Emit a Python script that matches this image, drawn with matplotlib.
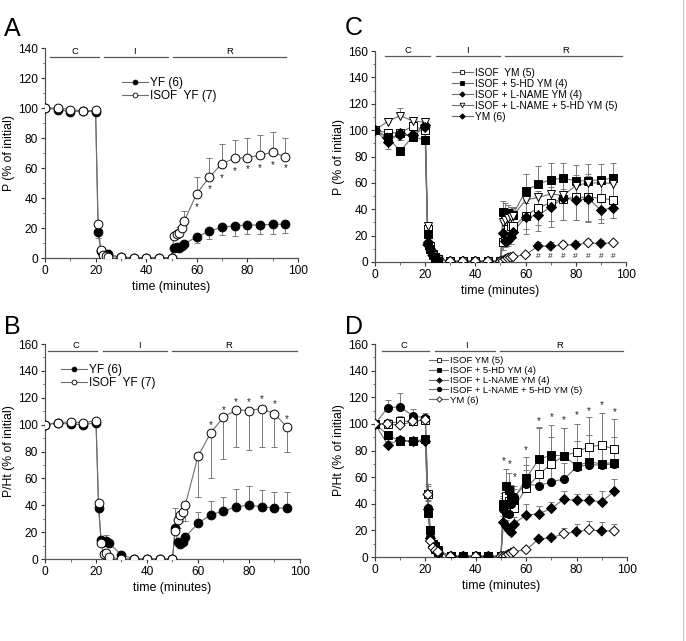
import matplotlib
matplotlib.use("Agg")
import matplotlib.pyplot as plt
from matplotlib.lines import Line2D
import numpy as np

plt.rcParams['font.family'] = ['Liberation Sans', 'DejaVu Sans']

# ---------------- data ----------------
T = [0, 5, 10, 15, 20, 21, 22, 23, 24, 25, 30, 35, 40, 45, 50,
     51, 52, 53, 54, 55, 60, 65, 70, 75, 80, 85, 90, 95]

# Panel A : P (% of initial)
A_yf = [100, 99, 97.5, 98, 97.5, 17.5, 5, 3, 3, 2.5, 0.5, 0, 0, 0, 0,
        7, 7.5, 7, 8, 9.5, 14, 18, 20.5, 21.5, 22, 22, 22.5, 22.5]
A_yf_err = [0, 0, 0, 0, 0, 4, 0, 0, 0, 0, 0, 0, 0, 0, 0,
            0, 0, 0, 0, 0, 4, 5, 5, 6.5, 6, 6, 6.5, 6]
A_isof = [100, 100, 99, 98, 98.5, 23, 5.5, 2, 1.5, 1, 0.5, 0.3, 0.3, 0.3, 0.3,
          15, 16, 17, 20, 24.5, 43, 54, 63, 66.5, 67, 68.5, 70.5, 67.5]
A_isof_err = [0, 0, 0, 0, 0, 0, 0, 0, 0, 0, 0, 0, 0, 0, 0,
              0, 0, 4, 5, 7, 11, 13, 13, 12.5, 13, 13.5, 13.5, 12.5]
A_star_t = [60, 65, 70, 75, 80, 85, 90, 95]
A_star_y = [34, 46, 53, 58, 59, 60, 62, 60]

# Panel B : P/Ht (% of initial)
B_yf = [100, 101, 100.5, 100, 101.5, 38, 14, 13, 13.5, 12, 3, 0, 0, 0, 0,
        23, 13, 11, 13, 16.5, 26.5, 33, 35.5, 39, 40, 39, 38, 38]
B_yf_err = [0, 0, 0, 0, 0, 6, 0, 0, 4.5, 0, 0, 0, 0, 0, 0,
            15, 0, 0, 0, 0, 8.5, 10, 10.5, 13, 14, 12, 12, 12]
B_isof = [100, 101.5, 102, 101.5, 103, 42, 12, 4, 4.5, 1.5, 0, 0, 0, 0, 0,
          21, 29, 32.5, 35, 40, 76.5, 94, 105.5, 111, 110.5, 112, 108, 98]
B_isof_err = [0, 0, 0, 0, 0, 0, 0, 0, 0, 0, 0, 0, 0, 0, 0,
              0, 6, 5, 0, 12, 30.5, 34, 31, 28, 29.5, 29, 25, 18]
B_star_t = [65, 70, 75, 80, 85, 90, 95]
B_star_y = [100, 111, 117, 117, 119, 115, 104]

# Panel C : P (% of initial), YM hearts
C_isof = [100, 98, 98, 103, 100, 25, 12, 6, 4, 2, 0.5, 0.5, 0.5, 0.5, 0.5,
          15, 18, 25, 27, 27, 35, 41, 45, 48, 49, 49, 48.5, 47]
C_isof_err = [0, 3, 3, 3, 3, 3, 0, 0, 0, 0, 0, 0, 0, 0, 0,
              6, 6, 8, 8, 6, 10, 13, 14, 16, 17, 18, 16, 14]
C_5hd = [100, 95, 84, 95, 92.5, 21, 10, 5, 3, 2, 0.5, 0.5, 0.5, 0.5, 0.5,
         38, 37, 37, 36, 36, 54, 59, 62.5, 63.5, 61.5, 61.5, 62.5, 63.5]
C_5hd_err = [0, 3, 3, 3, 3, 3, 0, 0, 0, 0, 0, 0, 0, 0, 0,
             8, 8, 6, 6, 6, 13, 14, 12.5, 11.5, 12, 12.5, 12, 11.5]
C_lname = [100, 91, 97.5, 96, 104, 15, 10, 6, 4, 3, 0.5, 0.5, 0.5, 0.5, 0.5,
           22, 16, 17, 19, 23, 34, 35.5, 41.5, 48.5, 47, 48, 39.5, 41]
C_lname_err = [0, 5, 5, 3, 3, 3, 0, 0, 0, 0, 0, 0, 0, 0, 0,
               5, 5, 5, 5, 5, 13, 12, 15, 17, 15, 18, 10, 8]
C_both = [100, 106.5, 111, 107, 106, 27, 8, 5, 3, 2, 0.5, 0.5, 0.5, 0.5, 0.5,
          30, 32, 33, 34, 35, 47, 49, 51.5, 50.5, 58, 60, 60, 59.5]
C_both_err = [0, 3, 6, 3, 3, 3, 0, 0, 0, 0, 0, 0, 0, 0, 0,
              6, 6, 6, 6, 6, 5, 5, 5, 5, 5, 5, 5, 5]
C_ym = [100, 94, 96, 96, 102, 13, 10, 5, 3, 2, 0.5, 0.5, 0.5, 0.5, 0.5,
        1, 2, 3, 3.5, 4, 5.5, 12, 12, 13, 13, 14.5, 14, 14.5]
C_ym_err = [0, 3, 3, 3, 3, 2, 0, 0, 0, 0, 0, 0, 0, 0, 0,
            0, 0, 0, 0, 0, 1, 3, 3, 3, 3, 3, 3, 2]
C_ym_fill = [1, 1, 1, 1, 1, 1, 1, 1, 1, 1, 0, 0, 0, 0, 0,
             0, 0, 0, 0, 0, 0, 1, 1, 0, 1, 0, 1, 0]
C_hash_t = [60, 65, 70, 75, 80, 85, 90, 95]
C_hash_y = [4, 4, 4, 4, 4, 4, 4, 4]

# Panel D : P/Ht (% of initial), YM hearts
D_isof = [100, 100, 102, 102, 103, 47, 20, 10, 6, 4, 0.5, 0.5, 0.5, 0.5, 0.5,
          38, 46, 42, 40, 37, 51.5, 62, 70, 76, 79, 83, 84, 81]
D_isof_err = [0, 4, 4, 4, 4, 6, 0, 0, 0, 0, 0, 0, 0, 0, 0,
              8, 10, 10, 10, 10, 18, 35, 29, 21, 21, 22, 24, 23]
D_5hd = [100, 92, 87, 87, 88.5, 33, 20, 10, 8, 5, 0.5, 0.5, 0.5, 0.5, 0.5,
         40, 53, 50, 44, 43, 59, 73.5, 76.5, 76, 68.5, 71.5, 70, 71]
D_5hd_err = [0, 3, 3, 3, 3, 6, 0, 0, 0, 0, 0, 0, 0, 0, 0,
             8, 13, 13, 10, 8, 16, 24, 14, 21, 19, 20, 16, 19]
D_lname = [100, 84.5, 88, 87, 87, 36, 14, 8, 5, 3, 0.5, 0.5, 0.5, 0.5, 0.5,
           26, 23, 20, 19, 25, 31.5, 32.5, 36.5, 43.5, 42.5, 42.5, 41.5, 49.5]
D_lname_err = [0, 3, 3, 3, 3, 6, 0, 0, 0, 0, 0, 0, 0, 0, 0,
               5, 5, 5, 5, 5, 8, 6, 5, 6, 5, 5, 8, 9]
D_both = [100, 112, 113, 106, 104.5, 37, 15, 10, 7, 5, 0.5, 0.5, 0.5, 0.5, 0.5,
          36, 33, 32, 40, 45, 55, 53.5, 56.5, 58.5, 67.5, 69.5, 69, 70]
D_both_err = [0, 6, 10, 5, 4, 6, 0, 0, 0, 0, 0, 0, 0, 0, 0,
              8, 8, 8, 8, 8, 10, 12, 12, 12, 12, 12, 12, 12]
D_ym = [100, 100, 99, 102, 103, 47, 12, 7, 5, 4, 0.5, 0.5, 0.5, 0.5, 0.5,
        0.5, 1, 2, 3, 4, 5.5, 13.5, 14.5, 17.5, 19, 20.5, 19.5, 19.5]
D_ym_err = [0, 3, 3, 3, 3, 8, 0, 0, 0, 0, 0, 0, 0, 0, 0,
            0, 0, 0, 0, 0, 1, 2, 3, 4.5, 6, 6.5, 6.5, 5.5]
D_ym_fill = [0, 0, 0, 0, 0, 0, 0, 0, 0, 0, 0, 1, 0, 1, 0,
             0, 0, 0, 0, 0, 0, 1, 1, 0, 1, 0, 1, 0]
D_star_t = [51, 53.5, 55.5, 60, 65, 70, 75, 80, 85, 90, 95]
D_star_y = [72, 70, 60, 80, 102, 105, 103, 107, 110, 114, 109]

phase_names = ['C', 'I', 'R']

# ---------------- drawing ----------------
fig = plt.figure(figsize=(6.86, 6.41), dpi=100)

LINE = '#6e6e6e'
ERR = '#7a7a7a'


def series(ax, y, err, direction, marker, filled, ms, label, fills=None, lw=0.8):
    t = np.array(T, float)
    y = np.array(y, float)
    e = np.array(err, float)
    if direction == 'up':
        yerr = [np.zeros_like(e), e]
    elif direction == 'down':
        yerr = [e, np.zeros_like(e)]
    else:
        yerr = [e, e]
    m = e > 0
    ax.errorbar(t[m], y[m], yerr=[yerr[0][m], yerr[1][m]], fmt='none',
                ecolor=ERR, elinewidth=0.7, capsize=2, capthick=0.7, zorder=2)
    ax.plot(t, y, '-', color=LINE, lw=lw, zorder=3)
    if fills is None:
        fc = 'black' if filled else 'white'
        ax.plot(t, y, linestyle='none', marker=marker, ms=ms, mfc=fc,
                mec='black', mew=0.7, zorder=4)
    else:
        fcs = ['black' if f else 'white' for f in fills]
        ax.scatter(t, y, marker=marker, s=ms ** 2, facecolors=fcs,
                   edgecolors='black', linewidths=0.7, zorder=4)
    fc = 'black' if filled else 'white'
    return Line2D([], [], color=LINE, lw=lw, marker=marker, ms=ms * 0.55,
                  mfc=fc, mec='black', mew=0.6, label=label)


def setup(ax, ymax, ylabel, bar_y, segs, labx):
    ax.set_xlim(0, 100)
    ax.set_ylim(0, ymax)
    ax.set_xticks(range(0, 101, 20))
    ax.set_xticks(range(0, 101, 10), minor=True)
    ax.set_yticks(range(0, ymax + 1, 20))
    ax.set_yticks(range(0, ymax + 1, 10), minor=True)
    for s in ['top', 'right']:
        ax.spines[s].set_visible(False)
    for s in ['left', 'bottom']:
        ax.spines[s].set_color('#555555')
        ax.spines[s].set_linewidth(0.9)
    ax.tick_params(axis='both', which='major', direction='out', length=3,
                   width=0.8, labelsize=8.6, colors='#333333', labelcolor='black',
                   pad=2)
    ax.tick_params(axis='both', which='minor', direction='out', length=1.8,
                   width=0.6, colors='#555555')
    ax.set_xlabel('time (minutes)', fontsize=8.8, labelpad=3)
    ax.set_ylabel(ylabel, fontsize=8.8, labelpad=2)
    for (x0, x1), lx, name in zip(segs, labx, phase_names):
        ax.plot([x0, x1], [bar_y, bar_y], color='#555555', lw=0.9,
                clip_on=False, zorder=1)
        ax.text(lx, bar_y + 0.6, name, fontsize=6.8, ha='center', va='bottom')


def marks(ax, xs, ys, s, fs):
    for x, y in zip(xs, ys):
        ax.text(x, y, s, fontsize=fs, ha='center', va='center', color='#222222')


# Panel A
axA = fig.add_axes([0.0656, 0.5975, 0.3688, 0.3276])
setup(axA, 140, 'P (% of initial)', 134,
      [(2, 21.4), (23.4, 48.5), (50.7, 95.1)], [12, 35.5, 73])
hA = [series(axA, A_yf, A_yf_err, 'down', 'o', True, 6.3, 'YF (6)'),
      series(axA, A_isof, A_isof_err, 'up', 'o', False, 6.3, 'ISOF  YF (7)')]
marks(axA, A_star_t, A_star_y, '*', 7)
axA.legend(handles=hA, loc='upper left', bbox_to_anchor=(0.27, 0.9),
           frameon=False, fontsize=8.5, handlelength=2.2, handletextpad=0.2,
           labelspacing=0.1, borderpad=0.2)

# Panel B
axB = fig.add_axes([0.0656, 0.1279, 0.3717, 0.3354])
setup(axB, 160, 'P/Ht (% of initial)', 154.8,
      [(1, 20.3), (22.6, 47.7), (50, 98.9)], [12, 37, 72])
hB = [series(axB, B_yf, B_yf_err, 'up', 'o', True, 6.3, 'YF (6)'),
      series(axB, B_isof, B_isof_err, 'down', 'o', False, 6.3, 'ISOF  YF (7)')]
marks(axB, B_star_t, B_star_y, '*', 7)
axB.legend(handles=hB, loc='upper left', bbox_to_anchor=(0.03, 0.945),
           frameon=False, fontsize=8.5, handlelength=2.2, handletextpad=0.2,
           labelspacing=0.1, borderpad=0.2)

# Panel C
axC = fig.add_axes([0.5466, 0.5913, 0.3659, 0.3291])
setup(axC, 160, 'P (% of initial)', 156.2,
      [(3.9, 22), (24.4, 49.7), (51.7, 98.5)], [13, 37, 76])
hC = [series(axC, C_isof, C_isof_err, 'both', 's', False, 5.5, 'ISOF  YM (5)'),
      series(axC, C_5hd, C_5hd_err, 'up', 's', True, 5.5, 'ISOF + 5-HD YM (4)'),
      series(axC, C_lname, C_lname_err, 'down', 'D', True, 5.0, 'ISOF + L-NAME YM (4)'),
      series(axC, C_both, C_both_err, 'up', 'v', False, 6.0, 'ISOF + L-NAME + 5-HD YM (5)'),
      series(axC, C_ym, C_ym_err, 'up', 'D', True, 5.0, 'YM (6)', fills=C_ym_fill)]
marks(axC, C_hash_t, C_hash_y, '#', 6)
axC.legend(handles=hC, loc='upper left', bbox_to_anchor=(0.28, 0.955),
           frameon=False, fontsize=7.3, handlelength=2.0, handletextpad=0.2,
           labelspacing=0.1, borderpad=0.2)

# Panel D
axD = fig.add_axes([0.5466, 0.131, 0.3673, 0.3323])
setup(axD, 160, 'P/Ht (% of initial)', 154.7,
      [(2.9, 21.4), (23.7, 47.5), (49.7, 98.4)], [11.5, 36.5, 73.5])
hD = [series(axD, D_isof, D_isof_err, 'up', 's', False, 5.5, 'ISOF YM (5)'),
      series(axD, D_5hd, D_5hd_err, 'up', 's', True, 5.5, 'ISOF + 5-HD YM (4)'),
      series(axD, D_lname, D_lname_err, 'up', 'D', True, 5.0, 'ISOF + L-NAME YM (4)'),
      series(axD, D_both, D_both_err, 'up', 'o', True, 5.8, 'ISOF + L-NAME + 5-HD YM (5)'),
      series(axD, D_ym, D_ym_err, 'up', 'D', False, 5.0, 'YM (6)', fills=D_ym_fill)]
marks(axD, D_star_t, D_star_y, '*', 7)
axD.legend(handles=hD, loc='upper left', bbox_to_anchor=(0.19, 0.975),
           frameon=False, fontsize=6.8, handlelength=2.0, handletextpad=0.2,
           labelspacing=0.1, borderpad=0.2)

# panel letters
for lbl, x, y in [('A', 0.006, 0.955), ('C', 0.503, 0.957),
                  ('B', 0.006, 0.49), ('D', 0.503, 0.49)]:
    fig.text(x, y, lbl, fontsize=18, ha='left', va='center')

# right border line
fig.add_artist(Line2D([0.996, 0.996], [0, 1], transform=fig.transFigure,
                      color='#c8c8c8', lw=0.8))

fig.savefig('out.png', dpi=100)
